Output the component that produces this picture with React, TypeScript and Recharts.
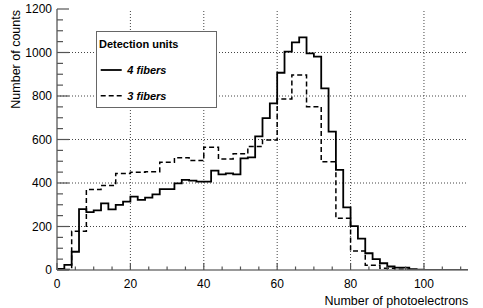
import React from 'react';
import { ComposedChart, Line, XAxis, YAxis, ReferenceLine, Legend } from 'recharts';

const BIN_WIDTH_4F = 2;
const COUNTS_4F = [
  5, 24, 84, 280, 266, 274, 306, 279, 299, 314,
  337, 322, 333, 348, 372, 372, 398, 414, 411, 406,
  406, 457, 440, 444, 440, 513, 518, 614, 698, 766,
  907, 1004, 1047, 1070, 996, 981, 835, 636, 460, 288,
  202, 144, 77, 50, 31, 16, 11, 11, 4, 2,
  1, 0, 0, 0, 0, 0,
];

const BIN_WIDTH_3F = 4;
const COUNTS_3F = [
  2, 178, 370, 388, 444, 449, 452, 495, 516, 503,
  564, 510, 534, 568, 598, 786, 897, 751, 498, 238,
  87, 22, 8, 3, 1, 0, 0, 0,
];

const SERIES_NAMES = ['4 fibers', '3 fibers'];
const SERIES_DASH = ['', '5 3'];
const LEGEND_TITLE = 'Detection units';
const X_TITLE = 'Number of photoelectrons';
const Y_TITLE = 'Number of counts';

const X_MAJOR = [0, 20, 40, 60, 80, 100];
const X_MINOR = [0, 5, 10, 15, 20, 25, 30, 35, 40, 45, 50, 55, 60, 65, 70, 75, 80, 85, 90, 95, 100, 105, 110];
const Y_MAJOR = [0, 200, 400, 600, 800, 1000, 1200];
const Y_MINOR = [
  0, 50, 100, 150, 200, 250, 300, 350, 400, 450, 500, 550, 600,
  650, 700, 750, 800, 850, 900, 950, 1000, 1050, 1100, 1150, 1200,
];
const X_GRID = [20, 40, 60, 80, 100];
const Y_GRID = [200, 400, 600, 800, 1000];

const FONT = '"Liberation Sans", Arial, Helvetica, sans-serif';
const TICK_COLOR = '#555';
const GRID_COLOR = '#444';

function toSteps(counts: number[], width: number) {
  const pts = counts.map((c, i) => ({ x: i * width, y: c }));
  pts.push({ x: counts.length * width, y: counts[counts.length - 1] });
  return pts;
}

const DATA_4F = toSteps(COUNTS_4F, BIN_WIDTH_4F);
const DATA_3F = toSteps(COUNTS_3F, BIN_WIDTH_3F);

function BottomTick(props: any) {
  const { x, y, payload } = props;
  const major = X_MAJOR.includes(payload.value);
  return (
    <g>
      <line x1={x} x2={x} y1={y} y2={y - (major ? 7 : 3.5)} stroke={TICK_COLOR} strokeWidth={1.2} />
      {major && (
        <text x={x} y={y + 18.3} textAnchor="middle" fontSize={12} fontFamily={FONT} fill="#000">
          {payload.value}
        </text>
      )}
    </g>
  );
}

function TopTick(props: any) {
  const { x, y, payload } = props;
  const major = X_MAJOR.includes(payload.value);
  return <line x1={x} x2={x} y1={y} y2={y + (major ? 7 : 3.5)} stroke={TICK_COLOR} strokeWidth={1.2} />;
}

function LeftTick(props: any) {
  const { x, y, payload } = props;
  const major = Y_MAJOR.includes(payload.value);
  return (
    <g>
      <line x1={x} x2={x + (major ? 12 : 6)} y1={y} y2={y} stroke={TICK_COLOR} strokeWidth={1.2} />
      {major && (
        <text x={x - 5} y={y + 4.3} textAnchor="end" fontSize={12} fontFamily={FONT} fill="#000">
          {payload.value}
        </text>
      )}
    </g>
  );
}

function RightTick(props: any) {
  const { x, y, payload } = props;
  const major = Y_MAJOR.includes(payload.value);
  return <line x1={x} x2={x - (major ? 12 : 6)} y1={y} y2={y} stroke={TICK_COLOR} strokeWidth={1.2} />;
}

function XTitle(props: any) {
  const vb = props.viewBox || { x: 57, y: 270, width: 411, height: 30 };
  return (
    <text x={vb.x + vb.width + 0.3} y={vb.y + 34.5} textAnchor="end" fontSize={12.5} fontFamily={FONT} fill="#000">
      {X_TITLE}
    </text>
  );
}

function YTitle(props: any) {
  const vb = props.viewBox || { x: 10, y: 9, width: 47, height: 261 };
  const x = vb.x + 9.5;
  const y = vb.y + 1;
  return (
    <text x={x} y={y} textAnchor="end" fontSize={12.5} fontFamily={FONT} fill="#000" transform={`rotate(-90, ${x}, ${y})`}>
      {Y_TITLE}
    </text>
  );
}

function LegendBox() {
  const rows = [38, 63.7];
  return (
    <div
      style={{
        width: 121,
        height: 77,
        border: '1px solid #666',
        background: '#fff',
        boxSizing: 'border-box',
      }}
    >
      <svg width={119} height={75} style={{ display: 'block' }}>
        <text x={2} y={15.5} fontSize={11} fontWeight="bold" fontFamily={FONT} fill="#000">
          {LEGEND_TITLE}
        </text>
        {SERIES_NAMES.map((name, i) => (
          <g key={name}>
            <line
              x1={3.7}
              x2={24.7}
              y1={rows[i]}
              y2={rows[i]}
              stroke="#000"
              strokeWidth={i === 0 ? 1.8 : 1.5}
              strokeDasharray={SERIES_DASH[i] || undefined}
            />
            <text
              x={30.3}
              y={rows[i] + 4}
              fontSize={11}
              fontWeight="bold"
              fontStyle="italic"
              fontFamily={FONT}
              fill="#000"
            >
              {name}
            </text>
          </g>
        ))}
      </svg>
    </div>
  );
}

export default function App() {
  return (
    <div style={{ position: 'absolute', left: 0, top: 0, width: 483, height: 308, background: '#fff' }}>
      <ComposedChart width={483} height={308} margin={{ top: 9, right: 15, left: 10, bottom: 8 }}>
        {X_GRID.map((v) => (
          <ReferenceLine key={'gx' + v} xAxisId="b" yAxisId="l" x={v} stroke={GRID_COLOR} strokeDasharray="1 2" strokeWidth={1} />
        ))}
        {Y_GRID.map((v) => (
          <ReferenceLine key={'gy' + v} xAxisId="b" yAxisId="l" y={v} stroke={GRID_COLOR} strokeDasharray="1 2" strokeWidth={1} />
        ))}
        <XAxis
          xAxisId="b"
          type="number"
          dataKey="x"
          domain={[0, 112]}
          allowDataOverflow
          ticks={X_MINOR}
          interval={0}
          tickSize={0}
          tickMargin={0}
          tickLine={false}
          height={30}
          axisLine={{ stroke: '#777', strokeWidth: 1.6 }}
          tick={(p: any) => <BottomTick {...p} />}
          label={(p: any) => <XTitle {...p} />}
        />
        <XAxis
          xAxisId="t"
          orientation="top"
          type="number"
          dataKey="x"
          domain={[0, 112]}
          allowDataOverflow
          ticks={X_MINOR}
          interval={0}
          tickSize={0}
          tickMargin={0}
          tickLine={false}
          height={0}
          axisLine={{ stroke: '#888', strokeWidth: 1 }}
          tick={(p: any) => <TopTick {...p} />}
        />
        <YAxis
          yAxisId="l"
          type="number"
          domain={[0, 1200]}
          allowDataOverflow
          ticks={Y_MINOR}
          interval={0}
          tickSize={0}
          tickMargin={0}
          tickLine={false}
          width={47}
          axisLine={{ stroke: '#777', strokeWidth: 1.6 }}
          tick={(p: any) => <LeftTick {...p} />}
          label={(p: any) => <YTitle {...p} />}
        />
        <YAxis
          yAxisId="r"
          orientation="right"
          type="number"
          domain={[0, 1200]}
          allowDataOverflow
          ticks={Y_MINOR}
          interval={0}
          tickSize={0}
          tickMargin={0}
          tickLine={false}
          width={0}
          axisLine={{ stroke: '#222', strokeWidth: 1.2 }}
          tick={(p: any) => <RightTick {...p} />}
        />
        <Line
          xAxisId="b"
          yAxisId="l"
          data={DATA_4F}
          dataKey="y"
          name={SERIES_NAMES[0]}
          type="stepAfter"
          stroke="#000"
          strokeWidth={1.8}
          dot={false}
          activeDot={false}
          isAnimationActive={false}
        />
        <Line
          xAxisId="t"
          yAxisId="r"
          data={DATA_3F}
          dataKey="y"
          name={SERIES_NAMES[1]}
          type="stepAfter"
          stroke="#000"
          strokeWidth={1.5}
          strokeDasharray={SERIES_DASH[1]}
          dot={false}
          activeDot={false}
          isAnimationActive={false}
        />
        <Legend
          layout="vertical"
          align="center"
          verticalAlign="middle"
          wrapperStyle={{ left: 96, top: 31, width: 121, height: 77 }}
          content={() => <LegendBox />}
        />
      </ComposedChart>
    </div>
  );
}
